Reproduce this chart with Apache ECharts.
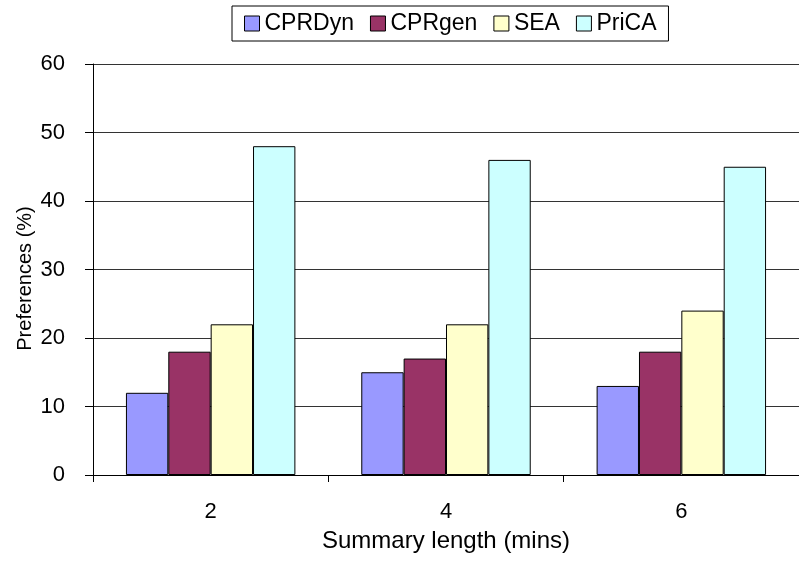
<!DOCTYPE html>
<html><head><meta charset="utf-8">
<script src="https://cdn.jsdelivr.net/npm/echarts@6/dist/echarts.min.js"></script>
<style>html,body{margin:0;padding:0;background:#fff}#c{width:799px;height:565px}</style>
</head><body><div id="c"></div>
<script>
const categories = ['2', '4', '6'];
const seriesNames = ['CPRDyn', 'CPRgen', 'SEA', 'PriCA'];
const cprdyn = [12, 15, 13];
const cprgen = [18, 17, 18];
const sea = [22, 22, 24];
const prica = [48, 46, 45];
const colors = ['#9999FF', '#993366', '#FFFFCC', '#CCFFFF'];
const values = [cprdyn, cprgen, sea, prica];

const chart = echarts.init(document.getElementById('c'), null, {renderer: 'canvas'});
const font = 'Liberation Sans, Arial, sans-serif';
chart.setOption({
  animation: false,
  backgroundColor: '#fff',
  legend: {
    top: 6, left: 232,
    padding: [6, 12, 6, 12],
    borderColor: '#000', borderWidth: 1, backgroundColor: '#fff',
    icon: 'rect',
    itemWidth: 15, itemHeight: 15, itemGap: 16,
    textStyle: {fontFamily: font, fontSize: 23, color: '#000'},
    data: seriesNames.map((n, i) => ({name: n, itemStyle: {color: colors[i], borderColor: '#000', borderWidth: 1}}))
  },
  grid: {left: 93, top: 64, width: 714, height: 411, containLabel: false},
  xAxis: {
    type: 'category', data: categories,
    name: 'Summary length (mins)', nameLocation: 'middle', nameGap: 54,
    nameMoveOverlap: false,
    nameTextStyle: {fontFamily: font, fontSize: 24, color: '#000'},
    axisLine: {lineStyle: {color: '#000', width: 1}},
    axisTick: {show: true, length: 7, lineStyle: {color: '#000'}},
    axisLabel: {fontFamily: font, fontSize: 22, color: '#000', margin: 26}
  },
  yAxis: {
    type: 'value', min: 0, max: 60, interval: 10,
    name: 'Preferences (%)', nameLocation: 'middle', nameGap: 58,
    nameMoveOverlap: false,
    nameTextStyle: {fontFamily: font, fontSize: 20, color: '#000', padding: [0, 18, 0, 0]},
    axisLine: {show: true, lineStyle: {color: '#000', width: 1}},
    axisTick: {show: true, length: 8, lineStyle: {color: '#000'}},
    axisLabel: {fontFamily: font, fontSize: 22, color: '#000', margin: 28},
    splitLine: {lineStyle: {color: '#333', width: 1}}
  },
  series: seriesNames.map((n, i) => ({
    name: n, type: 'bar', data: values[i],
    barGap: '0%', barCategoryGap: '28%',
    itemStyle: {color: colors[i], borderColor: '#000', borderWidth: 1}
  }))
});
</script></body></html>
